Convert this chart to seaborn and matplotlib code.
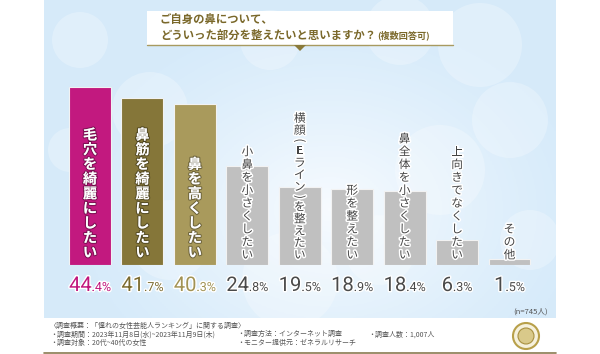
import numpy as np
import pandas as pd
import matplotlib
matplotlib.use("Agg")
import matplotlib.pyplot as plt
import seaborn as sns
from matplotlib import patheffects as pe
from matplotlib.patches import Rectangle, Circle, Polygon

# ---------------- data ----------------
categories = ["毛穴を綺麗にしたい", "鼻筋を綺麗にしたい", "鼻を高くしたい",
              "小鼻を小さくしたい", "横顔(Eライン)を整えたい", "形を整えたい",
              "鼻全体を小さくしたい", "上向きでなくしたい", "その他"]
values = [44.4, 41.7, 40.3, 24.8, 19.5, 18.9, 18.4, 6.3, 1.5]
bar_colors = ["#c2197f", "#857639", "#a99a5c"] + ["#c0c0c0"] * 6
value_colors = ["#c0157c", "#7b6b2f", "#a29354"] + ["#4a4a4a"] * 6
title_line1 = "ご自身の鼻について、"
title_line2 = "どういった部分を整えたいと思いますか？"
title_note = "(複数回答可)"
n_note = "(n=745人)"
footer_col1 = ["〈調査概要：「憧れの女性芸能人ランキング」に関する調査〉",
               "・調査期間：2023年11月8日(水)~2023年11月9日(木)",
               "・調査対象：20代~40代の女性"]
footer_col2 = ["・調査方法：インターネット調査", "・モニター提供元：ゼネラルリサーチ"]
footer_col3 = ["・調査人数：1,007人"]

sns.set_style("white")
plt.rcParams["font.family"] = ["Noto Sans CJK JP", "DejaVu Sans"]

fig = plt.figure(figsize=(6, 3.54), dpi=100)
fig.patch.set_facecolor("white")

# ---------------- background (pixel coordinates) ----------------
bg = fig.add_axes([0, 0, 1, 1], zorder=0)
bg.set_xlim(0, 600)
bg.set_ylim(354, 0)
bg.axis("off")

gx, gy = np.meshgrid(np.linspace(44, 556, 256), np.linspace(0, 318, 160))
d = np.sqrt(((gx - 330) / 260) ** 2 + ((gy - 210) / 200) ** 2)
t = np.clip(1 - d, 0, 1) ** 1.2
base = np.array([0.84, 0.92, 0.98])
light = np.array([0.97, 0.985, 1.0])
img = base[None, None, :] * (1 - t[..., None]) + light[None, None, :] * t[..., None]
bg.imshow(img, extent=(44, 556, 318, 0), aspect="auto", zorder=0)
for cx, cy, r in [(80, 40, 28), (70, 150, 22), (150, 110, 38), (270, 40, 30),
                  (400, 30, 35), (480, 45, 42), (510, 120, 38), (440, 170, 45),
                  (530, 240, 30), (290, 280, 48), (170, 240, 40), (380, 250, 35)]:
    bg.add_patch(Circle((cx, cy), r, facecolor="white", edgecolor="none",
                        alpha=0.25, zorder=1))

# title box
bg.add_patch(Rectangle((147, 11), 306, 34, facecolor="white", edgecolor="none", zorder=2))
bg.plot([147, 453], [45, 45], color="#a89a60", lw=1.0, zorder=3)
bg.add_patch(Polygon([(294, 45), (306, 45), (300, 51)], closed=True,
                     facecolor="#8a7a3a", edgecolor="none", zorder=3))
bg.text(160, 20.5, title_line1, fontsize=8.2, color="#7a682a", va="center",
        ha="left", fontweight="bold", zorder=4)
t2 = bg.text(160, 35, title_line2, fontsize=8.2, color="#7a682a", va="center",
             ha="left", fontweight="bold", zorder=4)

# bottom line & notes
bg.plot([44, 556], [353, 353], color="#8a7a50", lw=1.2, zorder=3)
bg.text(548, 312, n_note, fontsize=5.5, color="#555555", ha="right", va="center", zorder=4)
for k, s in enumerate(footer_col1):
    bg.text(50, 326 + 8.3 * k, s, fontsize=5, color="#555555", ha="left", va="center")
for k, s in enumerate(footer_col2):
    bg.text(237, 334.3 + 8.3 * k, s, fontsize=5, color="#555555", ha="left", va="center")
for k, s in enumerate(footer_col3):
    bg.text(368, 334.3 + 8.3 * k, s, fontsize=5, color="#555555", ha="left", va="center")
# emblem
bg.add_patch(Circle((526, 336), 13, facecolor="#f6f1dc", edgecolor="#b8a04a", lw=1.5, zorder=3))
bg.add_patch(Circle((526, 336), 8, facecolor="#d9c98a", edgecolor="#a89040", lw=0.8, zorder=4))

# ---------------- bars ----------------
ax = fig.add_axes([63.8 / 600, (354 - 265) / 354, 471.9 / 600, 200 / 354], zorder=2)
ax.patch.set_alpha(0)
df = pd.DataFrame({"cat": categories, "val": values})
sns.barplot(data=df, x="cat", y="val", hue="cat", palette=bar_colors, legend=False,
            width=0.8, saturation=1, edgecolor="#f2f2f2", linewidth=0.8, ax=ax)
ax.set_xlim(-0.5, 8.5)
ax.set_ylim(0, 50)
ax.axis("off")

# vertical labels (one character per row, brackets turned for vertical writing)
small_chars = {"(": 8.0, ")": 8.0, "E": 12.5}
for i, lab in enumerate(categories):
    chars = list(lab)
    if i < 3:
        pitch, fs, col, bottom = 14.7, 10.2, "white", 12
        eff = [pe.withStroke(linewidth=1.6, foreground="#00000055")]
        fw = "bold"
    else:
        pitch, fs, col, bottom = 12.9, 8.4, "#444444", 10
        eff = [pe.withStroke(linewidth=2.2, foreground="white")]
        fw = "normal"
    if "(" in lab:
        pitch = 12.0
    hs = [small_chars.get(c, pitch) for c in chars]
    ys = []
    y = bottom
    for k in range(len(chars) - 1, -1, -1):
        ys.append(y)
        if k > 0:
            y += (hs[k] + hs[k - 1]) / 2
    ys = ys[::-1]
    for c, yy in zip(chars, ys):
        rot = -90 if c in "()" else 0
        ax.annotate(c, xy=(i, 0), xycoords=("data", "axes fraction"),
                    xytext=(0, yy), textcoords="offset pixels", ha="center",
                    va="center", fontsize=fs, color=col, fontweight=fw,
                    rotation=rot, rotation_mode="anchor",
                    path_effects=eff, zorder=5)

# value labels
num_family = ["Roboto", "DejaVu Sans"]
pairs = []
for i, v in enumerate(values):
    s = f"{v:.1f}"
    ip, dp = s.split(".")
    eff = [pe.withStroke(linewidth=2.0, foreground="white")]
    a = ax.annotate(ip, xy=(i, 0), xycoords=("data", "axes fraction"), xytext=(0, -26),
                    textcoords="offset pixels", ha="right", va="baseline",
                    fontsize=14.5, color=value_colors[i], family=num_family,
                    path_effects=eff, zorder=5)
    b = ax.annotate("." + dp + "%", xy=(i, 0), xycoords=("data", "axes fraction"),
                    xytext=(0, -26), textcoords="offset pixels", ha="left",
                    va="baseline", fontsize=9, color=value_colors[i],
                    family=num_family, path_effects=eff, zorder=5)
    pairs.append((a, b))

fig.canvas.draw()
r = fig.canvas.get_renderer()
for a, b in pairs:
    w1 = a.get_window_extent(r).width
    w2 = b.get_window_extent(r).width
    x0 = -(w1 + w2) / 2 + w1
    a.xyann = (x0, -26)
    b.xyann = (x0, -26)

# title note after line 2
ext = t2.get_window_extent(r)
x_end = bg.transData.inverted().transform((ext.x1, ext.y0))[0]
bg.text(x_end + 1, 35.5, title_note, fontsize=6.6, color="#7a682a", va="center",
        ha="left", fontweight="bold", zorder=4)

fig.savefig("out.png", dpi=100)
